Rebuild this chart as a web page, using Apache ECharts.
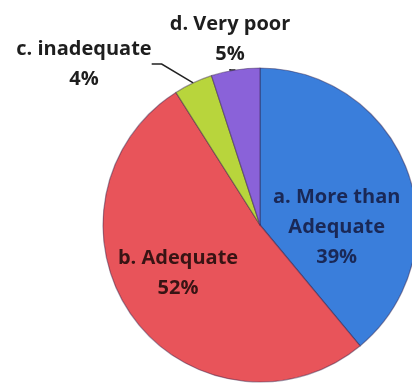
<!DOCTYPE html>
<html>
<head>
<meta charset="utf-8">
<script src="https://cdn.jsdelivr.net/npm/echarts@6/dist/echarts.min.js"></script>
<style>
html,body{margin:0;padding:0;background:#fff;}
#chart{width:412px;height:385px;}
</style>
</head>
<body>
<div id="chart"></div>
<script>
var categories = ['a. More than\nAdequate', 'b. Adequate', 'c. inadequate', 'd. Very poor'];
var values = [39, 52, 4, 5];
var colors = ['#3a7edb', '#e8545a', '#b8d53c', '#8a62d9'];

var labelSettings = [
  { position: 'inside', color: '#1a2856', offset: [0, 30], layout: null },
  { position: 'inside', color: '#381414', offset: [-16, 0], layout: null },
  { position: 'outside', color: '#1e1e1e', layout: { x: 84, y: 64 } },
  { position: 'outside', color: '#1e1e1e', layout: { x: 230, y: 39 } }
];

var data = categories.map(function (c, i) {
  var s = labelSettings[i];
  var d = {
    name: c,
    value: values[i],
    itemStyle: { color: colors[i] },
    label: { position: s.position, color: s.color },
    labelLine: { show: s.position === 'outside' }
  };
  if (s.offset) d.label.offset = s.offset;
  return d;
});

var chart = echarts.init(document.getElementById('chart'));
chart.setOption({
  animation: false,
  backgroundColor: '#ffffff',
  series: [{
    type: 'pie',
    center: [260, 225],
    radius: 157,
    startAngle: 90,
    clockwise: true,
    avoidLabelOverlap: false,
    data: data,
    itemStyle: { borderColor: 'rgba(50,30,70,0.45)', borderWidth: 1.2 },
    label: {
      formatter: '{b}\n{d}%',
      fontFamily: 'Open Sans',
      fontWeight: 'bold',
      fontSize: 20,
      lineHeight: 30,
      align: 'center'
    },
    labelLine: {
      length: 10,
      length2: 10,
      lineStyle: { color: '#222', width: 1.5 }
    },
    labelLayout: function (params) {
      var s = labelSettings[params.dataIndex];
      if (s.layout) {
        return { x: s.layout.x, y: s.layout.y, align: 'center', verticalAlign: 'middle' };
      }
      return {};
    }
  }]
});
</script>
</body>
</html>
